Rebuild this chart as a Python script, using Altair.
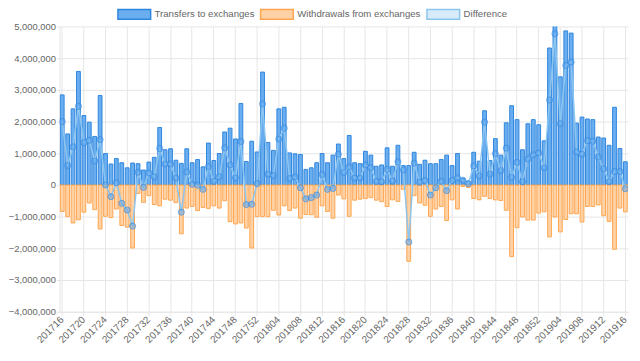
import altair as alt
import pandas as pd

weeks = [
    "201716", "201717", "201718", "201719", "201720", "201721", "201722", "201723",
    "201724", "201725", "201726", "201727", "201728", "201729", "201730", "201731",
    "201732", "201733", "201734", "201735", "201736", "201737", "201738", "201739",
    "201740", "201741", "201742", "201743", "201744", "201745", "201746", "201747",
    "201748", "201749", "201750", "201751", "201752",
    "201801", "201802", "201803", "201804", "201805", "201806", "201807", "201808",
    "201809", "201810", "201811", "201812", "201813", "201814", "201815", "201816",
    "201817", "201818", "201819", "201820", "201821", "201822", "201823", "201824",
    "201825", "201826", "201827", "201828", "201829", "201830", "201831", "201832",
    "201833", "201834", "201835", "201836", "201837", "201838", "201839", "201840",
    "201841", "201842", "201843", "201844", "201845", "201846", "201847", "201848",
    "201849", "201850", "201851", "201852",
    "201901", "201902", "201903", "201904", "201905", "201906", "201907", "201908",
    "201909", "201910", "201911", "201912", "201913", "201914", "201915", "201916",
]

transfers = [
    2840000, 1610000, 2400000, 3580000, 2190000, 1980000, 1530000, 2820000,
    990000, 660000, 830000, 700000, 540000, 690000, 670000, 470000,
    720000, 870000, 1810000, 1110000, 1140000, 780000, 680000, 1140000,
    700000, 800000, 570000, 1320000, 770000, 990000, 1670000, 1790000,
    1450000, 2570000, 740000, 1380000, 1040000,
    3560000, 1340000, 1090000, 2400000, 2450000, 1010000, 980000, 960000,
    490000, 540000, 700000, 990000, 700000, 940000, 1290000, 830000,
    1560000, 700000, 670000, 1060000, 940000, 590000, 630000, 1170000,
    590000, 1250000, 610000, 610000, 1030000, 650000, 780000, 670000,
    670000, 800000, 940000, 610000, 990000, 200000, 120000, 1030000,
    750000, 2340000, 770000, 1460000, 940000, 1960000, 2500000, 2060000,
    1110000, 1930000, 2060000, 1900000,
    1390000, 4320000, 5780000, 3410000, 4860000, 4790000, 1950000, 2140000,
    2080000, 2060000, 1510000, 1480000, 1250000, 2450000, 1150000, 730000,
]

withdrawals = [
    -840000, -1000000, -1200000, -1100000, -860000, -570000, -780000, -1390000,
    -990000, -1030000, -760000, -1280000, -1330000, -1990000, -270000, -550000,
    -340000, -620000, -660000, -450000, -480000, -560000, -1540000, -730000,
    -680000, -810000, -710000, -740000, -660000, -730000, -500000, -1160000,
    -1230000, -1200000, -1360000, -1990000, -1000000,
    -1000000, -1000000, -800000, -950000, -660000, -810000, -730000, -1050000,
    -930000, -940000, -1020000, -660000, -840000, -1050000, -320000, -440000,
    -990000, -480000, -450000, -430000, -400000, -480000, -530000, -680000,
    -470000, -520000, -140000, -2410000, -340000, -570000, -640000, -990000,
    -760000, -680000, -1120000, -470000, -760000, -50000, -80000, -430000,
    -470000, -360000, -430000, -470000, -490000, -800000, -2260000, -1350000,
    -1010000, -1110000, -1110000, -890000,
    -850000, -1640000, -1010000, -1480000, -1090000, -910000, -910000, -1170000,
    -680000, -680000, -630000, -970000, -1150000, -2030000, -730000, -850000,
]

series_names = ["Transfers to exchanges", "Withdrawals from exchanges", "Difference"]
fill_colors = ["#6aaef0", "#ffd2a6", "#d7ebfb"]
stroke_colors = ["#2f86de", "#ffa54f", "#8cc6f0"]
y_ticks = [-4000000, -3000000, -2000000, -1000000, 0,
           1000000, 2000000, 3000000, 4000000, 5000000]
x_ticks = weeks[::4]

long_df = pd.DataFrame({
    "week": weeks + weeks,
    "series": [series_names[0]] * len(weeks) + [series_names[1]] * len(weeks),
    "value": transfers + withdrawals,
})
wide_df = pd.DataFrame({"week": weeks, "transfers": transfers, "withdrawals": withdrawals})

FONT = "Liberation Sans"
GRID = "#e6e6e6"

x_axis = alt.Axis(values=x_ticks, labelAngle=315, labelAlign="right",
                  labelBaseline="middle", bandPosition=0.5, grid=True,
                  tickSize=4, labelPadding=2, labelOverlap=False,
                  labelFontSize=10)
x_scale = alt.Scale(paddingInner=0.3, paddingOuter=0.15)
y_scale = alt.Scale(domain=[-4000000, 5000000], nice=False)
y_axis = alt.Axis(values=y_ticks, tickCount=10, format=",d", tickSize=3, labelPadding=1,
                  grid=True, labelOverlap=False, labelFlush=False, labelFontSize=9.5)


def xe():
    return alt.X("week:O", sort=weeks, title=None, scale=x_scale, axis=x_axis)


legend = alt.Legend(
    orient="none", legendX=58, legendY=-30, direction="horizontal", columns=3,
    title=None, symbolType="M-1,-0.3H1V0.3H-1Z", symbolSize=1089,
    symbolStrokeWidth=1.5, labelFont=FONT, labelFontSize=9.7, labelColor="#666",
    columnPadding=3, labelOffset=3,
)

bars = alt.Chart(long_df).mark_bar(clip=True, strokeWidth=1).encode(
    x=xe(),
    y=alt.Y("value:Q", scale=y_scale, axis=y_axis, stack=None, title=None),
    fill=alt.Fill("series:N", scale=alt.Scale(domain=series_names, range=fill_colors), legend=legend),
    stroke=alt.Stroke("series:N", scale=alt.Scale(domain=series_names, range=stroke_colors), legend=legend),
)

diff_base = alt.Chart(wide_df).transform_calculate(diff="datum.transfers + datum.withdrawals")

line = diff_base.mark_line(color="#8cc6f0", strokeWidth=1.5, clip=True).encode(
    x=xe(),
    y=alt.Y("diff:Q", scale=y_scale, axis=y_axis, title=None),
)
points = diff_base.mark_point(
    filled=True, shape="circle", size=38, fill="#5da6ee", fillOpacity=0.5,
    stroke="#2f86de", strokeOpacity=0.6, strokeWidth=1, clip=True,
).encode(
    x=xe(),
    y=alt.Y("diff:Q", scale=y_scale, axis=y_axis, title=None),
)

chart = alt.layer(bars, line, points).properties(
    width=574, height=288,
    autosize=alt.AutoSizeParams(type="none"),
    padding={"left": 52, "top": 17, "right": 4, "bottom": 34},
).configure_view(stroke=None).configure_axis(
    labelFont=FONT, labelColor="#666",
    gridColor=GRID, domainColor=GRID, tickColor=GRID,
)

chart.save("out.html", embed_options={"renderer": "svg", "actions": False})
